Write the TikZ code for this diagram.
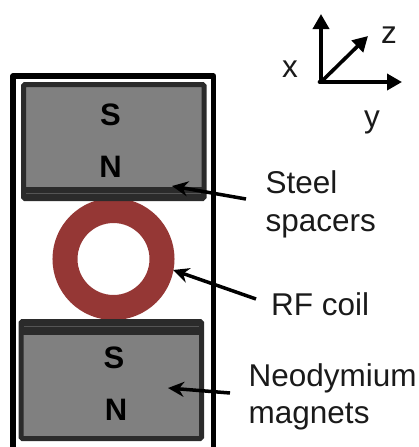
\documentclass[tikz,border=0pt]{standalone}
\usepackage{fontspec}
\setmainfont{Liberation Sans}
\usetikzlibrary{arrows.meta}
\definecolor{coilred}{HTML}{953735}
\definecolor{magdark}{HTML}{2B2B2B}
\definecolor{maggray}{HTML}{808080}
\definecolor{textdark}{HTML}{1A1A1A}
\tikzset{
  lbl/.style={inner sep=0pt,anchor=base west,text=textdark,font=\fontsize{31.5}{36}\selectfont,align=left},
  pole/.style={inner sep=0pt,text=black,font=\fontsize{31}{34}\selectfont\bfseries},
  axis/.style={line width=3.6pt,-{Triangle[length=15pt,width=16pt]},black},
  callout/.style={line width=3.5pt,-{Stealth[length=16pt,width=15pt]},black},
  magnet/.style={draw=magdark,fill=maggray,line width=5pt,rounded corners=1.5pt},
  band/.style={fill=magdark,draw=none},
  seam/.style={draw=magdark!80!white,line width=1pt}
}
\begin{document}
\begin{tikzpicture}[x=1pt,y=-1pt]
\useasboundingbox (0,0) rectangle (419,447);
% frame, open at the bottom
\draw[black,line width=5.5pt,line join=round] (13,447) -- (13,76) -- (213.5,76) -- (213.5,447);
% coil
\node[circle,draw=coilred,line width=25pt,minimum size=97pt,inner sep=0pt] (coil) at (113.5,259) {};
% top magnet
\draw[magnet] (23.5,84.5) rectangle (204,198.5);
\fill[band] (23.5,187) rectangle (204,198.5);
\draw[seam] (26,193) -- (201,193);
% bottom magnet
\draw[magnet] (21,321.5) rectangle (201.5,438.5);
\fill[band] (21,321.5) rectangle (201.5,335);
\draw[seam] (24,326) -- (199,326);
% pole labels
\node[pole] (s1) at (110.5,115) {S};
\node[pole] (n1) at (110.5,167) {N};
\node[pole] (s2) at (114,358) {S};
\node[pole] (n2) at (116,410) {N};
% callout labels
\node[lbl] (steel) at (265.5,193) {Steel};
\node[lbl] (spacers) at (265.5,231) {spacers};
\node[lbl] (rf) at (271,315) {RF coil};
\node[lbl] (neo) at (248.5,386) {Neodymium};
\node[lbl] (mag) at (248.5,423) {magnets};
% callout arrows
\coordinate (a1s) at (246,199);
\coordinate (a1e) at (172,186);
\coordinate (a2s) at (256,299);
\coordinate (a2e) at (173,270);
\coordinate (a3s) at (230,393);
\coordinate (a3e) at (168,388);
\draw[callout] (a1s) -- (a1e);
\draw[callout] (a2s) -- (a2e);
\draw[callout] (a3s) -- (a3e);
% axes
\coordinate (o) at (321,82);
\coordinate (ax) at (321,14);
\coordinate (ay) at (402,82);
\coordinate (az) at (368,36);
\draw[axis] (o) -- (ax);
\draw[axis] (o) -- (ay);
\draw[axis] (o) -- (az);
\draw[black,line width=3.6pt,line cap=round] (319.5,82) -- (322,82);
\node[lbl] (xl) at (282,77) {x};
\node[lbl] (yl) at (364,127) {y};
\node[lbl] (zl) at (381,43) {z};
\end{tikzpicture}
\end{document}
